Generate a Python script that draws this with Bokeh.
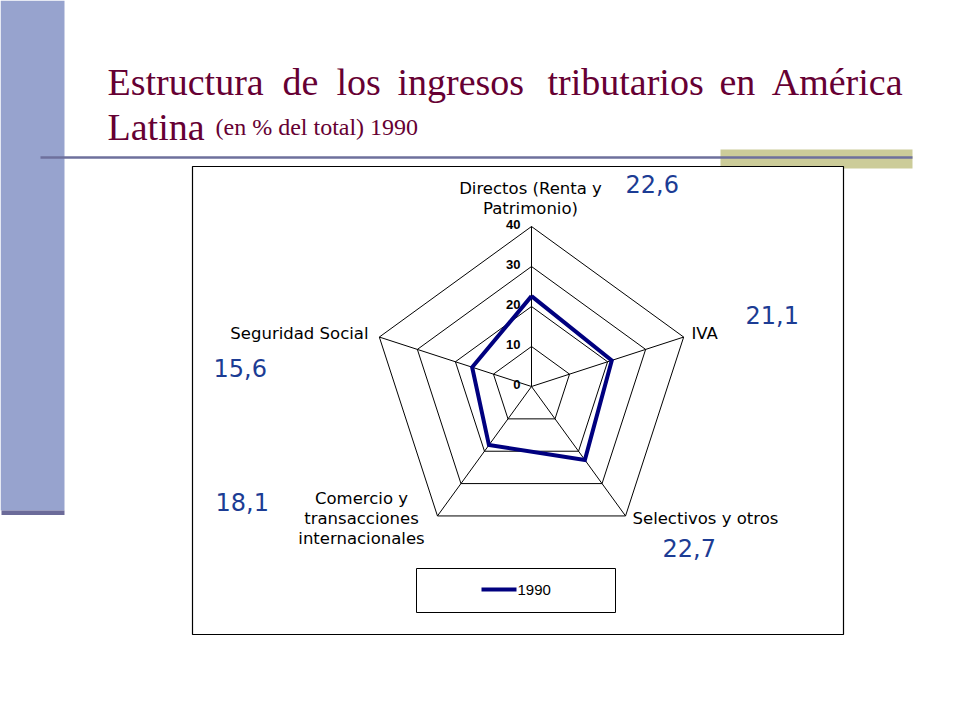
import numpy as np
from bokeh.plotting import figure
from bokeh.models import Range1d
from bokeh.core.properties import value
from bokeh.embed import file_html
from bokeh.resources import INLINE

# ---------------- data ----------------
categories = ["Directos (Renta y\nPatrimonio)", "IVA", "Selectivos y otros",
              "Comercio y\ntransacciones\ninternacionales", "Seguridad Social"]
values_1990 = [22.6, 21.1, 22.7, 18.1, 15.6]
value_labels = ["22,6", "21,1", "22,7", "18,1", "15,6"]
ticks = [0, 10, 20, 30, 40]
tick_labels = ["0", "10", "20", "30", "40"]
series_name = "1990"
title_words = ["Estructura", "de", "los", "ingresos", "tributarios", "en", "América"]
title_line2 = "Latina"
title_sub = "(en % del total) 1990"

# ---------------- figure (pixel-like coordinate space) ----------------
W, H = 944, 704
p = figure(width=W, height=H, output_backend="svg", toolbar_location=None,
           x_range=Range1d(0, W), y_range=Range1d(H, 0),
           min_border=0, outline_line_color=None, background_fill_color="white",
           border_fill_color="white")
p.axis.visible = False
p.grid.visible = False

# slide decorations
p.quad(left=[0], right=[64], top=[0], bottom=[510], fill_color="#97A3CE", line_color=None)
p.quad(left=[1], right=[64], top=[510], bottom=[514.5], fill_color="#6C6B99", line_color=None)
p.quad(left=[720], right=[912], top=[149], bottom=[168], fill_color="#CCCC99", line_color=None)
p.segment(x0=[40], y0=[157], x1=[912], y1=[157], line_color="#6E709C", line_width=2.5)

# title
title_color = "#660033"
title_x = [107, 282, 336, 397, 547, 719, 902]
for i, (w, x) in enumerate(zip(title_words, title_x)):
    p.text(x=[x], y=[81], text=[w], text_font=value("Liberation Serif"),
           text_font_size="38px", text_color=title_color,
           text_align="right" if i == len(title_words) - 1 else "left",
           text_baseline="alphabetic")
p.text(x=[107], y=[126], text=[title_line2], text_font=value("Liberation Serif"),
       text_font_size="38px", text_color=title_color, text_baseline="alphabetic")
p.text(x=[215], y=[126], text=[title_sub], text_font=value("Liberation Serif"),
       text_font_size="24px", text_color=title_color, text_baseline="alphabetic")

# chart box
p.quad(left=[192], right=[843], top=[166], bottom=[634], fill_color="white",
       line_color="black", line_width=1.2)

# ---------------- radar ----------------
cx, cy, R = 531, 386, 160.0
rmax = ticks[-1]
n = len(categories)
theta = np.arange(n) * 2 * np.pi / n

def pt(v, k):
    r = v / rmax * R
    return cx + r * np.sin(theta[k]), cy - r * np.cos(theta[k])

# rings
for t in ticks[1:]:
    xs = [pt(t, k % n)[0] for k in range(n + 1)]
    ys = [pt(t, k % n)[1] for k in range(n + 1)]
    p.line(xs, ys, line_color="black", line_width=1)
# spokes
sx = [pt(rmax, k)[0] for k in range(n)]
sy = [pt(rmax, k)[1] for k in range(n)]
p.segment(x0=[cx] * n, y0=[cy] * n, x1=sx, y1=sy, line_color="black", line_width=1)

# tick labels
for t, lab in zip(ticks, tick_labels):
    p.text(x=[cx - 11], y=[pt(t, 0)[1] - 2], text=[lab], text_font=value("Liberation Sans"),
           text_font_style="bold", text_font_size="13px", text_color="black",
           text_align="right", text_baseline="middle")

# series
series_color = "#00007F"
dx = [pt(v, k)[0] for k, v in enumerate(values_1990)]
dy = [pt(v, k)[1] for k, v in enumerate(values_1990)]
p.line(dx + dx[:1], dy + dy[:1], line_color=series_color, line_width=4, line_join="miter")

# category labels: (x, y of first line, align)
cat_pos = [(530, 188, "center"), (691, 333, "left"), (632, 518, "left"),
           (361, 498, "center"), (368, 333, "right")]
for cat, (x, y, al) in zip(categories, cat_pos):
    for j, line in enumerate(cat.split("\n")):
        p.text(x=[x], y=[y + 20 * j], text=[line], text_font=value("DejaVu Sans"),
               text_font_size="16.5px", text_color="black", text_align=al,
               text_baseline="middle")

# value labels
val_pos = [(625, 183), (745, 314), (662, 547), (215, 501), (213, 367)]
for lab, (x, y) in zip(value_labels, val_pos):
    p.text(x=[x], y=[y], text=[lab], text_font=value("DejaVu Sans"),
           text_font_size="24px", text_color="#1C3C94", text_align="left",
           text_baseline="middle")

# legend box
p.quad(left=[416], right=[615], top=[568], bottom=[612], fill_color="white",
       line_color="black", line_width=1)
p.segment(x0=[481], y0=[589], x1=[516], y1=[589], line_color=series_color, line_width=4)
p.text(x=[517], y=[589], text=[series_name], text_font=value("Liberation Sans"),
       text_font_size="15px", text_color="black", text_align="left", text_baseline="middle")

open("out.html", "w").write(file_html(p, INLINE))
